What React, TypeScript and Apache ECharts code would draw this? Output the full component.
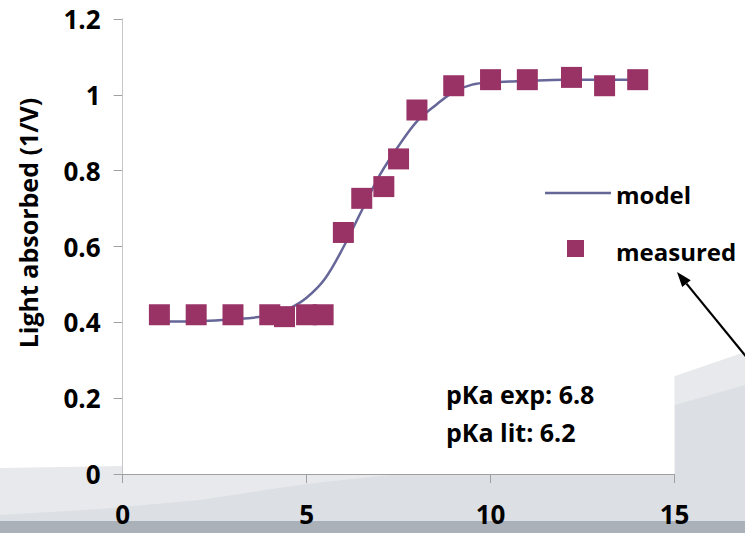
import React, { useEffect, useRef } from "react";
import * as echarts from "echarts";

const measuredX = [1, 2, 3, 4, 4.4, 5, 5.45, 6, 6.5, 7.1, 7.5, 8, 9, 10, 11, 12.2, 13.1, 14];
const measuredY = [0.42, 0.42, 0.42, 0.42, 0.415, 0.42, 0.42, 0.637, 0.727, 0.758, 0.831, 0.96, 1.024, 1.04, 1.04, 1.046, 1.024, 1.04];

const modelX = [1, 2, 3, 4, 4.5, 5, 5.5, 6, 6.5, 7, 7.5, 8, 8.5, 9, 9.5, 10, 11, 12, 13, 14];
const modelY = [0.402, 0.403, 0.408, 0.418, 0.435, 0.465, 0.515, 0.598, 0.695, 0.79, 0.865, 0.93, 0.972, 1.008, 1.027, 1.033, 1.037, 1.04, 1.04, 1.04];

const xTicks = [0, 5, 10, 15];
const yTicks = [0, 0.2, 0.4, 0.6, 0.8, 1, 1.2];
const seriesNames = ["model", "measured"];
const notes = ["pKa exp: 6.8", "pKa lit: 6.2"];
const yTitle = "Light absorbed (1/V)";

const FONT = "Open Sans";
const LINE_COLOR = "#666699";
const MARK_COLOR = "#993366";

export default function App() {
  const ref = useRef<HTMLDivElement>(null);
  useEffect(() => {
    if (!ref.current) return;
    const chart = echarts.init(ref.current, null, { renderer: "svg" });
    const tipX = 677, tipY = 272, tailX = 748, tailY = 359;
    const dx = tipX - tailX, dy = tipY - tailY;
    const len = Math.sqrt(dx * dx + dy * dy);
    const ux = dx / len, uy = dy / len;
    const hl = 15, hw = 5.5;
    const bx = tipX - ux * hl, by = tipY - uy * hl;
    const px = -uy * hw, py = ux * hw;
    const textStyle = (text: string, size: number, align: string) => ({
      text,
      font: `bold ${size}px "${FONT}"`,
      fill: "#000",
      textAlign: align,
      textVerticalAlign: "middle",
    });
    chart.setOption({
      animation: false,
      backgroundColor: "#ffffff",
      grid: {
        left: 122.6,
        right: 70.5,
        top: 19,
        bottom: 59,
        show: true,
        backgroundColor: "#ffffff",
        borderWidth: 0,
        z: 1,
      },
      xAxis: {
        type: "value",
        min: 0,
        max: 15,
        interval: 5,
        axisLine: { show: true, lineStyle: { color: "#a0a0a0", width: 1 } },
        axisTick: { show: true, length: 9, lineStyle: { color: "#a0a0a0" } },
        splitLine: { show: false },
        axisLabel: {
          margin: 27,
          color: "#000",
          fontFamily: FONT,
          fontWeight: "bold",
          fontSize: 26,
          lineHeight: 26,
          formatter: (v: number) => (xTicks.includes(v) ? String(v) : ""),
        },
      },
      yAxis: {
        type: "value",
        min: 0,
        max: 1.2,
        interval: 0.2,
        axisLine: { show: true, lineStyle: { color: "#a0a0a0", width: 1 } },
        axisTick: { show: true, length: 9, lineStyle: { color: "#a0a0a0" } },
        splitLine: { show: false },
        axisLabel: {
          margin: 22,
          color: "#000",
          fontFamily: FONT,
          fontWeight: "bold",
          fontSize: 26,
          formatter: (v: number) => {
            const t = yTicks.find((k) => Math.abs(k - v) < 1e-6);
            return t === undefined ? "" : String(t);
          },
        },
      },
      graphic: [
        {
          type: "polygon",
          z: -20,
          silent: true,
          shape: {
            points: [
              [0, 468], [122, 466], [400, 440], [675, 376], [745, 352], [745, 533], [0, 533],
            ],
          },
          style: { fill: "#e7e9ec" },
        },
        {
          type: "polygon",
          z: -19,
          silent: true,
          shape: {
            points: [
              [0, 515], [100, 509], [200, 500], [306, 484], [400, 474], [540, 440], [675, 405], [745, 385], [745, 533], [0, 533],
            ],
          },
          style: { fill: "#dcdfe3" },
        },
        {
          type: "rect",
          z: -18,
          silent: true,
          shape: { x: 0, y: 521, width: 745, height: 12 },
          style: { fill: "#abb1b9" },
        },
        {
          type: "text",
          z: 10,
          x: 28,
          y: 223,
          rotation: Math.PI / 2,
          style: textStyle(yTitle, 25, "center"),
        },
        { type: "text", z: 10, x: 446, y: 394, style: textStyle(notes[0], 25, "left") },
        { type: "text", z: 10, x: 446, y: 432, style: textStyle(notes[1], 25, "left") },
        // legend
        {
          type: "line",
          z: 10,
          silent: true,
          shape: { x1: 545, y1: 193, x2: 611, y2: 193 },
          style: { stroke: LINE_COLOR, lineWidth: 2.5 },
        },
        {
          type: "rect",
          z: 10,
          silent: true,
          shape: { x: 567, y: 240, width: 17, height: 17 },
          style: { fill: MARK_COLOR },
        },
        { type: "text", z: 10, x: 616, y: 194, style: textStyle(seriesNames[0], 24, "left") },
        { type: "text", z: 10, x: 616, y: 251, style: textStyle(seriesNames[1], 24, "left") },
        // arrow
        {
          type: "line",
          z: 10,
          silent: true,
          shape: { x1: tailX, y1: tailY, x2: bx, y2: by },
          style: { stroke: "#000", lineWidth: 2.2 },
        },
        {
          type: "polygon",
          z: 10,
          silent: true,
          shape: {
            points: [
              [tipX, tipY],
              [bx + px, by + py],
              [bx - px, by - py],
            ],
          },
          style: { fill: "#000" },
        },
      ],
      series: [
        {
          name: seriesNames[0],
          type: "line",
          data: modelX.map((x, i) => [x, modelY[i]]),
          smooth: 0.35,
          symbol: "none",
          lineStyle: { color: LINE_COLOR, width: 2.5 },
          itemStyle: { color: LINE_COLOR },
          z: 3,
        },
        {
          name: seriesNames[1],
          type: "scatter",
          data: measuredX.map((x, i) => [x, measuredY[i]]),
          symbol: "rect",
          symbolSize: 21,
          itemStyle: { color: MARK_COLOR, opacity: 1 },
          z: 4,
        },
      ],
    });
    return () => chart.dispose();
  }, []);
  return <div ref={ref} style={{ width: 745, height: 533, position: "absolute", left: 0, top: 0 }} />;
}
